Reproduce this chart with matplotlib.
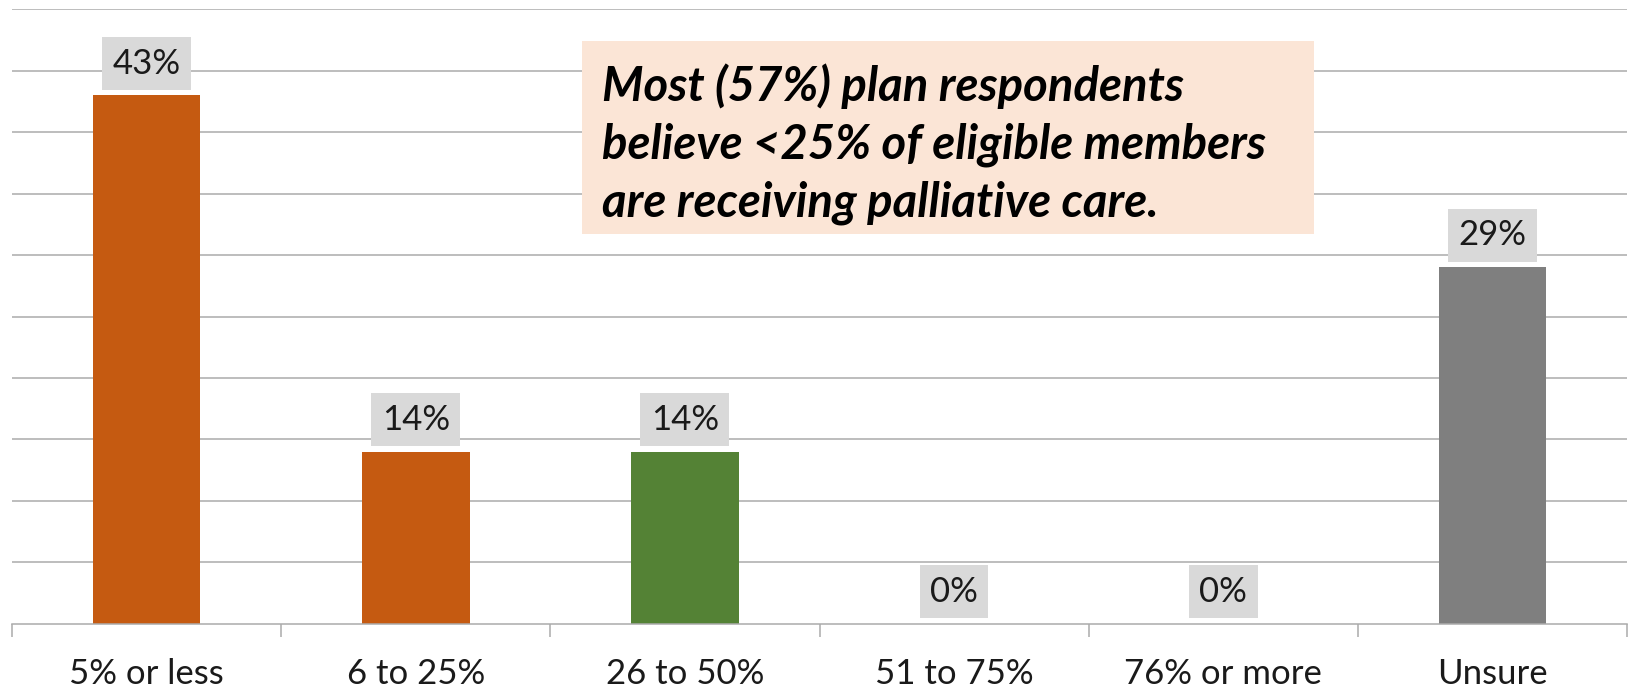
import matplotlib.pyplot as plt
from matplotlib.patches import Rectangle
import numpy as np

# Survey responses: share of eligible members receiving palliative care
categories = ["5% or less", "6 to 25%", "26 to 50%", "51 to 75%", "76% or more", "Unsure"]
percent = [43, 14, 14, 0, 0, 29]
bar_colours = ["#C55A11", "#C55A11", "#548235", "#548235", "#548235", "#7F7F7F"]
callout = ("Most (57%) plan respondents\n"
           "believe <25% of eligible members\n"
           "are receiving palliative care.")

plt.rcParams['font.family'] = ['Lato', 'DejaVu Sans']

fig = plt.figure(figsize=(16.29, 6.87), dpi=100)
ax = fig.add_axes([0.0074, 0.0924, 0.9914, 0.8938])

x = np.arange(len(categories))
ax.bar(x, percent, width=0.40, color=bar_colours, zorder=2)

# Value labels in grey boxes above each bar
for xi, v in zip(x, percent):
    ax.annotate(f"{v}%", (xi, v), xytext=(0, 23), textcoords="offset points",
                ha="center", va="center", fontsize=25, color="#1a1a1a",
                bbox=dict(boxstyle="square,pad=0.3", fc="#D9D9D9", ec="none"),
                zorder=4)

ax.set_xlim(-0.5, len(categories) - 0.5)
ax.set_ylim(0, 50)
ax.set_yticks(np.arange(5, 51, 5))
ax.tick_params(axis="y", left=False, labelleft=False)
ax.yaxis.grid(True, color="#ABABAB", linewidth=1.1, zorder=0)

# Category labels centred, tick marks on the boundaries
ax.set_xticks(x)
ax.set_xticklabels(categories, fontsize=25, color="#1a1a1a")
ax.tick_params(axis="x", which="major", length=0, pad=25)
ax.set_xticks(np.arange(-0.5, len(categories), 1), minor=True)
ax.tick_params(axis="x", which="minor", length=9, width=1.1, color="#ABABAB")

for side in ["left", "right", "top"]:
    ax.spines[side].set_visible(False)
ax.spines["bottom"].set_color("#ABABAB")
ax.spines["bottom"].set_linewidth(1.1)
ax.set_axisbelow(True)

# Callout box with the key finding
ax.add_patch(Rectangle((0.353, 0.634), 0.453, 0.314, transform=ax.transAxes,
                       facecolor="#FBE5D6", edgecolor="none", zorder=4))
ax.text(0.365, 0.781, callout, transform=ax.transAxes, ha="left", va="center",
        fontsize=34, fontweight="bold", fontstyle="italic", linespacing=1.38,
        color="black", zorder=5)

fig.savefig("out.png", dpi=100)
